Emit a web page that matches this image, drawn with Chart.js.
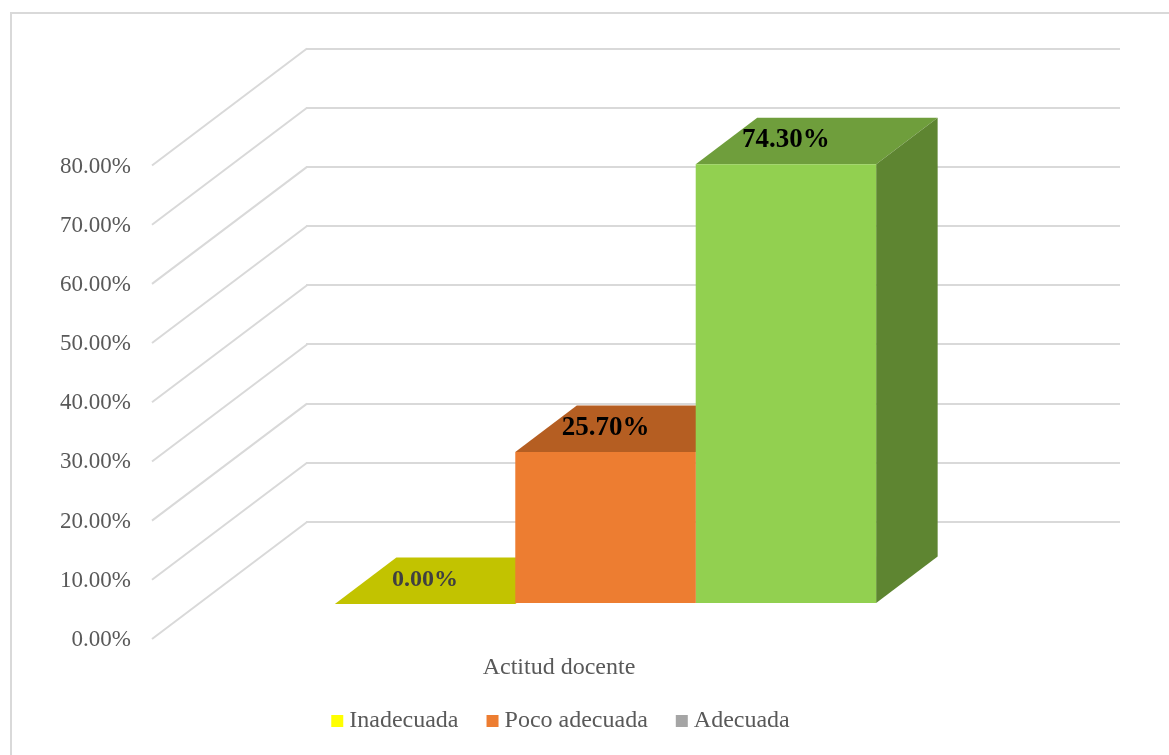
<!DOCTYPE html>
<html lang="es">
<head>
  <meta charset="UTF-8">
  <title>Actitud docente</title>
  <style>
    html, body { margin: 0; height: 755px; overflow: hidden; background: #fff; }
    #frame {
      position: absolute; left: 10px; top: 12px;
      width: 1300px; height: 900px;
      border: 2px solid #d9d9d9;
    }
    canvas { position: absolute; left: 0; top: 0; }
  </style>
</head>
<body>
  <div id="frame"></div>
  <canvas id="myChart" width="1169" height="743"></canvas>

<script src="https://cdn.jsdelivr.net/npm/chart.js"></script>

<script>
  const categories = ['Actitud docente'];
  const seriesNames = ['Inadecuada', 'Poco adecuada', 'Adecuada'];
  const seriesValues = [[0], [25.7], [74.3]];
  const yTicks = [0, 10, 20, 30, 40, 50, 60, 70, 80];

  // colours: front face, top face, side face, legend box, value label
  const frontColors = ['#ffff00', '#ed7d31', '#92d050'];
  const topColors = ['#c2c300', '#b55e22', '#6f9e3c'];
  const sideColors = ['#8f8f00', '#8e4a1b', '#5e8531'];
  const legendColors = ['#ffff00', '#ed7d31', '#a5a5a5'];
  const valueColors = ['#404040', '#000000', '#000000'];
  const valueSizes = [24, 27, 27];

  const serif = 'Liberation Serif';

  // fake 3D: how far the bars sit in front of the back wall, and bar depth
  const wallDx = 154, wallDy = 117;
  const barDx = -107.5, barDy = 82;
  const depthX = 61.5, depthY = 46.5;

  function quad(ctx, color, pts) {
    ctx.fillStyle = color;
    ctx.beginPath();
    ctx.moveTo(pts[0], pts[1]);
    ctx.lineTo(pts[2], pts[3]);
    ctx.lineTo(pts[4], pts[5]);
    ctx.lineTo(pts[6], pts[7]);
    ctx.closePath();
    ctx.fill();
  }

  const fake3d = {
    id: 'fake3d',
    // the x tick label sits low and gets clipped to the scale box otherwise
    afterLayout(chart) {
      chart.scales.x.bottom += 20;
    },
    beforeDatasetsDraw(chart) {
      const ctx = chart.ctx;
      const y = chart.scales.y;
      const left = chart.chartArea.left;

      // side wall lines, one per tick
      ctx.save();
      ctx.strokeStyle = '#d9d9d9';
      ctx.lineWidth = 2;
      y.ticks.forEach(t => {
        const py = y.getPixelForValue(t.value);
        ctx.beginPath();
        ctx.moveTo(left + 1, py);
        ctx.lineTo(left - wallDx, py + wallDy);
        ctx.stroke();
      });
      ctx.restore();

      // the bars get drawn by Chart.js inside this translate
      ctx.save();
      ctx.translate(barDx, barDy);
      seriesNames.forEach((name, i) => {
        const bar = chart.getDatasetMeta(i).data[0];
        const l = bar.x - bar.width / 2, r = bar.x + bar.width / 2;
        quad(ctx, topColors[i], [l, bar.y, r, bar.y, r + depthX, bar.y - depthY, l + depthX, bar.y - depthY]);
        if (bar.base > bar.y) {
          quad(ctx, sideColors[i], [r, bar.y, r + depthX, bar.y - depthY, r + depthX, bar.base - depthY, r, bar.base]);
        }
      });
    },
    afterDatasetsDraw(chart) {
      const ctx = chart.ctx;
      ctx.restore();

      ctx.save();
      ctx.textAlign = 'center';
      ctx.textBaseline = 'middle';
      seriesNames.forEach((name, i) => {
        const bar = chart.getDatasetMeta(i).data[0];
        ctx.font = 'bold ' + valueSizes[i] + 'px "' + serif + '"';
        ctx.fillStyle = valueColors[i];
        ctx.fillText(seriesValues[i][0].toFixed(2) + '%', bar.x + barDx, bar.y + barDy - 24);
      });
      ctx.restore();
    }
  };

  const ctx = document.getElementById('myChart');

  new Chart(ctx, {
    type: 'bar',
    data: {
      labels: categories,
      datasets: seriesNames.map((name, i) => ({
        label: name,
        data: seriesValues[i],
        backgroundColor: frontColors[i],
        borderWidth: 0,
        clip: false,
        categoryPercentage: 0.665,
        barPercentage: 1
      }))
    },
    options: {
      responsive: false,
      animation: false,
      layout: { padding: { top: 48.5, right: 49, left: 7, bottom: 0 } },
      scales: {
        x: {
          grid: { display: false, drawTicks: false },
          border: { display: false },
          afterFit: s => {
            s.height = 153;
            s.paddingLeft = s.paddingRight = 0;
          },
          ticks: {
            color: '#595959',
            font: { family: serif, size: 24 },
            padding: 131,
            labelOffset: -154,
            maxRotation: 0
          }
        },
        y: {
          min: 0,
          max: 80,
          afterBuildTicks: s => { s.ticks = yTicks.map(v => ({ value: v })); },
          grid: { color: '#d9d9d9', lineWidth: 2, drawTicks: false },
          border: { display: false },
          // big tick padding would otherwise push the chart area down
          afterFit: s => {
            s.width = 299;
            s.paddingTop = s.paddingBottom = 0;
          },
          ticks: {
            color: '#595959',
            font: { family: serif, size: 23 },
            padding: 175,
            labelOffset: 118,
            callback: v => v.toFixed(2) + '%'
          }
        }
      },
      plugins: {
        tooltip: { enabled: false },
        legend: {
          position: 'bottom',
          labels: {
            color: '#595959',
            font: { family: serif, size: 24 },
            usePointStyle: true,
            pointStyle: 'rect',
            boxWidth: 0.01,
            boxHeight: 12,
            padding: 34,
            generateLabels: chart =>
              Chart.defaults.plugins.legend.labels.generateLabels(chart).map((item, i) => ({
                ...item,
                fillStyle: legendColors[i],
                strokeStyle: legendColors[i],
                lineWidth: 0
              }))
          }
        }
      }
    },
    plugins: [fake3d]
  });
</script>
</body>
</html>
